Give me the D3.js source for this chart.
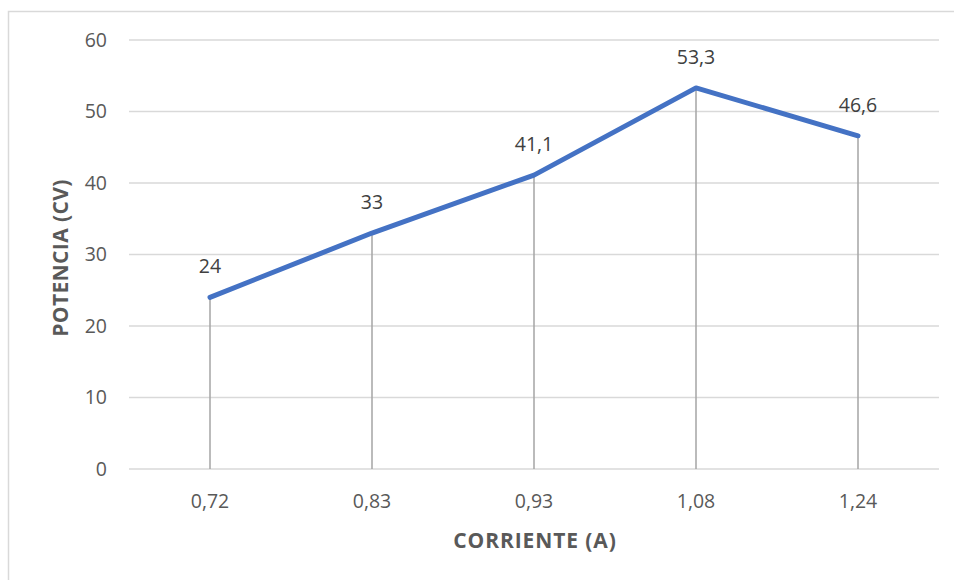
<!DOCTYPE html>
<html>
<head>
<meta charset="utf-8">
<script src="https://cdn.jsdelivr.net/npm/d3@7"></script>
<style>
  html, body { margin: 0; padding: 0; background: #fff; }
  svg { display: block; font-family: "Open Sans", Lato, sans-serif; }
</style>
</head>
<body>
<svg id="chart" width="954" height="580"></svg>
<script>
// Current (A) categories and measured power (CV)
const corriente = ["0,72", "0,83", "0,93", "1,08", "1,24"];
const potencia = [24, 33, 41.1, 53.3, 46.6];
const potenciaLabels = ["24", "33", "41,1", "53,3", "46,6"];
const yTicks = [0, 10, 20, 30, 40, 50, 60];

const svg = d3.select("#chart");
const W = 954, H = 580;
const plot = { left: 129, right: 939, top: 40, bottom: 469 };
const textColor = "#595959";
const fontFamily = "'Open Sans', Lato, sans-serif";

// Outer chart frame
svg.append("rect")
  .attr("x", 8.5).attr("y", 11.5)
  .attr("width", W + 10).attr("height", H + 10)
  .attr("fill", "none").attr("stroke", "#d9d9d9").attr("stroke-width", 1.5);

const x = d3.scaleBand().domain(corriente).range([plot.left, plot.right]);
const y = d3.scaleLinear().domain([0, 60]).range([plot.bottom, plot.top]);

// Horizontal gridlines
svg.append("g").selectAll("line").data(yTicks).join("line")
  .attr("x1", plot.left).attr("x2", plot.right)
  .attr("y1", d => y(d)).attr("y2", d => y(d))
  .attr("stroke", "#d9d9d9").attr("stroke-width", 1.5);

// Y axis tick labels
const yAxis = d3.axisLeft(y).tickValues(yTicks).tickSize(0).tickPadding(0);
const gy = svg.append("g").attr("transform", `translate(${plot.left - 22},0)`).call(yAxis);
gy.select(".domain").remove();
gy.selectAll("text")
  .attr("fill", textColor).attr("font-size", 19.5)
  .attr("font-family", fontFamily);

// X axis tick labels
const xAxis = d3.axisBottom(x).tickSize(0).tickPadding(0);
const gx = svg.append("g").attr("transform", `translate(0,${plot.bottom + 25})`).call(xAxis);
gx.select(".domain").remove();
gx.selectAll("text")
  .attr("fill", textColor).attr("font-size", 19.5)
  .attr("font-family", fontFamily);

const cx = d => x(d) + x.bandwidth() / 2;

// Drop lines from each point to the baseline
svg.append("g").selectAll("line").data(corriente).join("line")
  .attr("x1", d => cx(d)).attr("x2", d => cx(d))
  .attr("y1", (d, i) => y(potencia[i])).attr("y2", y(0))
  .attr("stroke", "#a5a5a5").attr("stroke-width", 1.5);

// Series line
const line = d3.line()
  .x((d, i) => cx(corriente[i]))
  .y(d => y(d));
svg.append("path")
  .datum(potencia)
  .attr("d", line)
  .attr("fill", "none")
  .attr("stroke", "#4472c4")
  .attr("stroke-width", 5)
  .attr("stroke-linecap", "round")
  .attr("stroke-linejoin", "round");

// Data labels
svg.append("g").selectAll("text").data(potencia).join("text")
  .attr("x", (d, i) => cx(corriente[i]))
  .attr("y", d => y(d) - 24)
  .attr("text-anchor", "middle")
  .attr("fill", "#404040").attr("font-size", 19.5)
  .text((d, i) => potenciaLabels[i]);

// Axis titles
svg.append("text")
  .attr("x", 535).attr("y", 548)
  .attr("text-anchor", "middle")
  .attr("fill", textColor).attr("font-size", 21).attr("font-weight", "bold")
  .attr("letter-spacing", 0.9)
  .text("CORRIENTE (A)");

svg.append("text")
  .attr("transform", `translate(68,258) rotate(-90)`)
  .attr("text-anchor", "middle")
  .attr("fill", textColor).attr("font-size", 21).attr("font-weight", "bold")
  .attr("letter-spacing", 0.4)
  .text("POTENCIA (CV)");
</script>
</body>
</html>
